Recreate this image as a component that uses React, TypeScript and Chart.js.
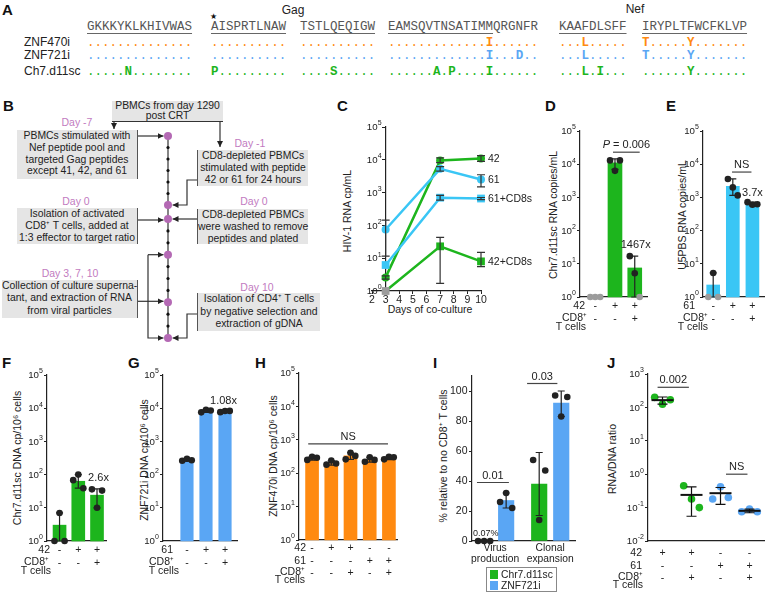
import React, { useEffect, useRef } from 'react';
import { Chart, registerables } from 'chart.js';

Chart.register(...registerables);

const FONT = '"Liberation Sans", Arial, Helvetica, sans-serif';
const MONO = '"Liberation Mono", "Courier New", monospace';
const GREEN = '#1db51d';
const CYAN = '#3ac6f5';
const BLUE = '#5aa6f4';
const ORANGE = '#ff8a10';
const GRAY = '#9c9c9c';
const DARK = '#222222';
const PINK = '#c27bbf';
const DOTPINK = '#b469b4';

Chart.defaults.font.family = FONT;
Chart.defaults.color = DARK;

// ---------------- Panel A data ----------------
const seqRef = ['GKKKYKLKHIVWAS', 'AISPRTLNAW', 'TSTLQEQIGW', 'EAMSQVTNSATIMMQRGNFR', 'KAAFDLSFF', 'IRYPLTFWCFKLVP'];
const seqEpitopeLen = [14, 10, 10, 14, 9, 14];
const seqZNF470i = ['..............', '..........', '..........', '.............I......', '...L.....', 'T.....Y.......'];
const seqZNF721i = ['..............', '..........', '..........', '.............I...D..', '...L.....', 'T.....Y.......'];
const seqCh7 = ['.....N........', 'P.........', '....S.....', '......A.P....I......', '...L.I...', '......Y.......'];
const seqNames = ['ZNF470i', 'ZNF721i', 'Ch7.d11sc'];

// ---------------- Panel C data ----------------
const cDays = [3, 7, 10];
const c42 = [2.6, 9500, 11000];
const c42Err = [[2.3, 2.9], [8200, 11500], [9000, 13500]];
const c61 = [75, 5300, 2500];
const c61Err = [[11.5, 145], [4500, 6200], [1500, 3500]];
const c61CD8 = [6.2, 700, 660];
const c61CD8Err = [null, [590, 820], [610, 710]];
const c42CD8 = [1, 23, 8];
const c42CD8Err = [null, [1.7, 43], [5.5, 15]];
const cYAxisAtDay = 3;

// ---------------- Panel D data ----------------
const dRow42 = ['-', '+', '+'];
const dRowCD8 = ['-', '-', '+'];
const dMeans = [1, 11000, 7.5];
const dPoints = [[1, 1, 1], [13000, 6300, 13000], [17, 5.2, 1]];
const dErr = [null, [7000, 14500], [1, 17]];

// ---------------- Panel E data ----------------
const eRow61 = ['-', '+', '+'];
const eRowCD8 = ['-', '-', '+'];
const eMeans = [2.3, 2150, 580];
const ePoints = [[1, 5.3, 1], [3600, 2000, 1150], [720, 600, 620]];
const eErr = [[1, 5.3], [1150, 3600], [560, 720]];

// ---------------- Panel F data ----------------
const fRow42 = ['-', '+', '+'];
const fRowCD8 = ['-', '-', '+'];
const fMeans = [3, 63, 24];
const fPoints = [[1, 7, 1], [68, 100, 39], [36, 10, 33]];
const fErr = [[1, 7], [39, 100], [10, 37]];

// ---------------- Panel G data ----------------
const gRow61 = ['-', '+', '+'];
const gRowCD8 = ['-', '-', '+'];
const gMeans = [270, 8000, 7800];
const gPoints = [[260, 300, 270], [7500, 9000, 8500], [7600, 8200, 8300]];
const gErr = [[255, 300], [7500, 9000], [7600, 8300]];

// ---------------- Panel H data ----------------
const hRow42 = ['-', '+', '+', '-', '-'];
const hRow61 = ['-', '-', '-', '+', '+'];
const hRowCD8 = ['-', '-', '+', '-', '+'];
const hMeans = [265, 195, 330, 250, 285];
const hPoints = [[250, 310, 290], [180, 240, 195], [260, 410, 330], [220, 300, 250], [260, 310, 300]];
const hErr = [[245, 310], [175, 240], [260, 410], [215, 300], [255, 310]];

// ---------------- Panel I data ----------------
const iRowTop = ['Virus', 'Clonal'];
const iRowBottom = ['production', 'expansion'];
const iChrMeans = [0.07, 38];
const iChrPoints = [[0, 0, 0], [54, 14, 47]];
const iChrErr = [null, [17, 59]];
const iZnfMeans = [27, 92];
const iZnfPoints = [[26, 32, 22], [97, 83, 96]];
const iZnfErr = [[22, 32], [83, 100]];
const iTicks = [0, 20, 40, 60, 80, 100];

// ---------------- Panel J data ----------------
const jRow42 = ['+', '+', '-', '-'];
const jRow61 = ['-', '-', '+', '+'];
const jRowCD8 = ['-', '+', '-', '+'];
const jPoints = [[200, 125, 170], [0.45, 0.18, 0.1], [0.18, 0.42, 0.2], [0.075, 0.09, 0.075]];
const jMeans = [165, 0.24, 0.27, 0.08];
const jErr = [[125, 205], [0.055, 0.42], [0.125, 0.4], [0.07, 0.09]];
const jGroupColors = [GREEN, GREEN, BLUE, BLUE];

// ---------------- helpers ----------------
type Area = { l: number; t: number; r: number; b: number; pl: number; pt: number; pr: number; pb: number };

const common: any = {
  responsive: false,
  maintainAspectRatio: false,
  animation: false,
  events: [],
  devicePixelRatio: 1,
  plugins: { legend: { display: false }, tooltip: { enabled: false } },
};

const errorBarPlugin = {
  id: 'errorBarPlugin',
  afterDatasetDraw(chart: any, args: any) {
    const ds = chart.data.datasets[args.index];
    if (!ds || !ds.errorBars) return;
    const meta = args.meta;
    const ys = chart.scales[meta.yAxisID];
    const ctx = chart.ctx;
    const cw = ds.capHalf ?? 3.5;
    ctx.save();
    ctx.strokeStyle = ds.errColor || DARK;
    ctx.lineWidth = 1.2;
    ds.errorBars.forEach((e: any, i: number) => {
      const el = meta.data[i];
      if (!e || !el) return;
      const x = el.x;
      const y1 = ys.getPixelForValue(e[0]);
      const y2 = ys.getPixelForValue(e[1]);
      ctx.beginPath();
      ctx.moveTo(x, y1);
      ctx.lineTo(x, y2);
      ctx.moveTo(x - cw, y2);
      ctx.lineTo(x + cw, y2);
      ctx.moveTo(x - cw, y1);
      ctx.lineTo(x + cw, y1);
      ctx.stroke();
    });
    ctx.restore();
  },
};
Chart.register(errorBarPlugin);

// log tick labels "10" with a raised small exponent, drawn from the scale's own ticks
function logLabelsPlugin(getX: (chart: any) => number) {
  return {
    id: 'logLabels',
    afterDraw(chart: any) {
      const ys = chart.scales.y;
      const ctx = chart.ctx;
      const x0 = getX(chart);
      ctx.save();
      ctx.fillStyle = DARK;
      ctx.textBaseline = 'middle';
      ys.ticks.forEach((t: any) => {
        const e = String(Math.round(Math.log10(t.value)));
        const y = ys.getPixelForValue(t.value);
        ctx.font = `7px ${FONT}`;
        const ew = ctx.measureText(e).width;
        ctx.textAlign = 'left';
        ctx.fillText(e, x0 - ew, y - 3.5);
        ctx.font = `9.7px ${FONT}`;
        ctx.textAlign = 'right';
        ctx.fillText('10', x0 - ew - 0.2, y + 0.5);
      });
      ctx.restore();
    },
  };
}

type Note =
  | { kind: 'bracket'; x1: number; x2: number; y: number; parts: { t: string; italic?: boolean }[] }
  | { kind: 'text'; x: number; y: number; text: string; size?: number };

function notesPlugin(items: Note[]) {
  return {
    id: 'notes',
    afterDatasetsDraw(chart: any) {
      const xs = chart.scales.x;
      const ys = chart.scales.y;
      const ctx = chart.ctx;
      ctx.save();
      ctx.fillStyle = DARK;
      ctx.strokeStyle = '#444';
      ctx.lineWidth = 1.2;
      ctx.textBaseline = 'middle';
      for (const it of items as any[]) {
        if (it.kind === 'bracket') {
          const x1 = xs.getPixelForValue(it.x1);
          const x2 = xs.getPixelForValue(it.x2);
          const y = ys.getPixelForValue(it.y);
          ctx.beginPath();
          ctx.moveTo(x1, y);
          ctx.lineTo(x2, y);
          ctx.stroke();
          const fonts = it.parts.map((p: any) => `${p.italic ? 'italic ' : ''}11px ${FONT}`);
          let total = 0;
          const widths = it.parts.map((p: any, k: number) => {
            ctx.font = fonts[k];
            const w = ctx.measureText(p.t).width;
            total += w;
            return w;
          });
          let x = (x1 + x2) / 2 - total / 2;
          ctx.textAlign = 'left';
          it.parts.forEach((p: any, k: number) => {
            ctx.font = fonts[k];
            ctx.fillText(p.t, x, y - 7);
            x += widths[k];
          });
        } else {
          ctx.font = `${it.size || 11}px ${FONT}`;
          ctx.textAlign = 'center';
          ctx.fillText(it.text, xs.getPixelForValue(it.x), ys.getPixelForValue(it.y));
        }
      }
      ctx.restore();
    },
  };
}

type RowTitle = { text: string; line: number; dx: number; dy?: number };
function rowTitlesPlugin(items: RowTitle[], pad: number, lh: number, size: number) {
  return {
    id: 'rowTitles',
    afterDraw(chart: any) {
      const xs = chart.scales.x;
      const ctx = chart.ctx;
      ctx.save();
      ctx.font = `${size}px ${FONT}`;
      ctx.fillStyle = DARK;
      ctx.textAlign = 'right';
      ctx.textBaseline = 'middle';
      for (const it of items) {
        ctx.fillText(it.text, chart.chartArea.left + it.dx, xs.top + pad + lh * (it.line + 0.5) + (it.dy || 0));
      }
      ctx.restore();
    },
  };
}

function yLog(area: Area, min: number, max: number) {
  return {
    type: 'logarithmic',
    min,
    max,
    afterBuildTicks: (sc: any) => {
      const t: any[] = [];
      for (let e = Math.round(Math.log10(min)); e <= Math.round(Math.log10(max)); e++) t.push({ value: Math.pow(10, e) });
      sc.ticks = t;
    },
    afterFit: (sc: any) => {
      sc.width = area.pl;
    },
    grid: { drawOnChartArea: false, drawTicks: true, tickLength: 3, color: DARK, lineWidth: 1 },
    border: { display: true, color: DARK, width: 1.2 },
    ticks: { display: false },
  };
}

function yLin(area: Area, min: number, max: number, ticks: number[]) {
  return {
    type: 'linear',
    min,
    max,
    afterBuildTicks: (sc: any) => {
      sc.ticks = ticks.map((v) => ({ value: v }));
    },
    afterFit: (sc: any) => {
      sc.width = area.pl;
    },
    grid: { drawOnChartArea: false, drawTicks: true, tickLength: 3, color: DARK, lineWidth: 1 },
    border: { display: true, color: DARK, width: 1.2 },
    ticks: { callback: (v: number) => String(v), padding: 1.5, color: DARK, font: { size: 10.5 }, autoSkip: false },
  };
}

function xCat(area: Area, min: number, max: number, rows: string[][], pad: number, lh: number, size: number) {
  return {
    type: 'linear',
    min,
    max,
    offset: false,
    afterBuildTicks: (sc: any) => {
      sc.ticks = rows[0].map((_, i) => ({ value: i }));
    },
    afterFit: (sc: any) => {
      sc.height = area.pb;
    },
    grid: { display: false, drawTicks: false, tickLength: 0, offset: false },
    border: { display: true, color: DARK, width: 1.2 },
    ticks: {
      callback: (v: number) => rows.map((r) => r[v]),
      padding: pad,
      maxRotation: 0,
      minRotation: 0,
      autoSkip: false,
      color: DARK,
      font: { size, lineHeight: lh / size },
    },
  };
}

interface BarSeries {
  xs: number[];
  means: number[];
  err: any[];
  points: number[][];
  color: string;
}
interface BarSpec {
  area: Area;
  xmin: number;
  xmax: number;
  ymin: number;
  ymax: number;
  log: boolean;
  yTicks?: number[];
  rows: string[][];
  pad: number;
  lh: number;
  xFont: number;
  titles: RowTitle[];
  series: BarSeries[];
  barW: number;
  spread: number;
  limitColor?: string;
  notes: Note[];
}

function barConfig(s: BarSpec) {
  const datasets: any[] = [];
  s.series.forEach((se) => {
    datasets.push({
      type: 'bar',
      data: se.xs.map((x, i) => ({ x, y: se.means[i] })),
      backgroundColor: se.color,
      barThickness: s.barW,
      grouped: false,
      order: 2,
      errorBars: se.err,
      clip: false,
      borderWidth: 0,
    });
    const pts: any[] = [];
    const cols: string[] = [];
    se.points.forEach((arr, i) =>
      arr.forEach((v, k) => {
        pts.push({ x: se.xs[i] + (k - (arr.length - 1) / 2) * s.spread, y: v });
        cols.push(s.limitColor && v <= s.ymin ? s.limitColor : DARK);
      })
    );
    datasets.push({
      type: 'scatter',
      data: pts,
      pointRadius: 3.3,
      pointBackgroundColor: cols,
      pointBorderWidth: 0,
      order: 1,
      clip: false,
      showLine: false,
    });
  });
  const plugins: any[] = [notesPlugin(s.notes), rowTitlesPlugin(s.titles, s.pad, s.lh, s.xFont)];
  if (s.log) plugins.push(logLabelsPlugin((c: any) => c.chartArea.left - 4));
  return {
    type: 'bar',
    data: { datasets },
    options: {
      ...common,
      layout: { padding: { left: 0, top: s.area.pt, right: s.area.pr, bottom: 0 } },
      scales: {
        x: xCat(s.area, s.xmin, s.xmax, s.rows, s.pad, s.lh, s.xFont),
        y: s.log ? yLog(s.area, s.ymin, s.ymax) : yLin(s.area, s.ymin, s.ymax, s.yTicks || []),
      },
    },
    plugins,
  };
}

function ChartCanvas({ area, make }: { area: Area; make: () => any }) {
  const ref = useRef<HTMLCanvasElement>(null);
  useEffect(() => {
    const chart = new Chart(ref.current as HTMLCanvasElement, make());
    return () => chart.destroy();
  }, []);
  const w = area.r - area.l + area.pl + area.pr;
  const h = area.b - area.t + area.pt + area.pb;
  return (
    <canvas
      ref={ref}
      width={w}
      height={h}
      style={{ position: 'absolute', left: area.l - area.pl, top: area.t - area.pt, width: w, height: h }}
    />
  );
}

// ---------------- chart areas ----------------
const AREA_C: Area = { l: 372, t: 127, r: 481, b: 291, pl: 30, pt: 8, pr: 60, pb: 24 };
const AREA_D: Area = { l: 580, t: 131, r: 647, b: 297, pl: 34, pt: 25, pr: 6, pb: 38 };
const AREA_E: Area = { l: 703, t: 131, r: 766, b: 297, pl: 34, pt: 10, pr: 2, pb: 38 };
const AREA_F: Area = { l: 47, t: 375, r: 106, b: 541, pl: 36, pt: 8, pr: 8, pb: 45 };
const AREA_G: Area = { l: 163, t: 375, r: 237, b: 541, pl: 30, pt: 8, pr: 8, pb: 45 };
const AREA_H: Area = { l: 299, t: 373, r: 397, b: 540, pl: 34, pt: 8, pr: 8, pb: 50 };
const AREA_I: Area = { l: 472, t: 376, r: 575, b: 541, pl: 26, pt: 8, pr: 6, pb: 30 };
const AREA_J: Area = { l: 648, t: 374, r: 767, b: 541, pl: 42, pt: 8, pr: 1, pb: 52 };

const LH = 12.6;

function makeC() {
  const mk = (label: string, ys: number[], err: any[], color: string, style: string, radius: number) => ({
    type: 'line',
    label,
    endLabel: label,
    data: cDays.map((d, i) => ({ x: d, y: ys[i] })),
    borderColor: color,
    borderWidth: 2.5,
    pointStyle: style,
    pointRadius: radius,
    pointBackgroundColor: ys.map((v) => (v <= 1 ? GRAY : color)),
    pointBorderWidth: 0,
    errorBars: err,
    errColor: '#333',
    capHalf: 4,
    clip: false,
    tension: 0,
  });
  const endLabels = {
    id: 'endLabels',
    afterDatasetsDraw(chart: any) {
      const ctx = chart.ctx;
      ctx.save();
      ctx.font = `10.5px ${FONT}`;
      ctx.fillStyle = DARK;
      ctx.textAlign = 'left';
      ctx.textBaseline = 'middle';
      chart.data.datasets.forEach((ds: any, i: number) => {
        const meta = chart.getDatasetMeta(i);
        const el = meta.data[meta.data.length - 1];
        ctx.fillText(ds.endLabel, el.x + 7, el.y + 1);
      });
      ctx.restore();
    },
  };
  const yScale: any = yLog(AREA_C, 1, 1e5);
  yScale.position = { x: cYAxisAtDay };
  delete yScale.afterFit;
  return {
    type: 'line',
    data: {
      datasets: [
        mk('42+CD8s', c42CD8, c42CD8Err, GREEN, 'rect', 5.5),
        mk('61+CD8s', c61CD8, c61CD8Err, CYAN, 'rect', 5.5),
        mk('61', c61, c61Err, CYAN, 'circle', 4),
        mk('42', c42, c42Err, GREEN, 'circle', 4),
      ],
    },
    options: {
      ...common,
      layout: { padding: { left: AREA_C.pl, top: AREA_C.pt, right: AREA_C.pr, bottom: 0 } },
      scales: {
        x: {
          type: 'linear',
          min: 2,
          max: 10,
          afterFit: (sc: any) => {
            sc.height = AREA_C.pb;
          },
          grid: { drawOnChartArea: false, drawTicks: true, tickLength: 3, color: DARK },
          border: { display: true, color: DARK, width: 1.2 },
          ticks: { stepSize: 1, padding: 0, color: DARK, font: { size: 10.5 }, maxRotation: 0, autoSkip: false },
        },
        y: yScale,
      },
    },
    plugins: [endLabels, logLabelsPlugin((c: any) => c.scales.x.getPixelForValue(cYAxisAtDay) - 4)],
  };
}

function makeD() {
  return barConfig({
    area: AREA_D, xmin: -0.77, xmax: 2.62, ymin: 1, ymax: 1e5, log: true,
    rows: [dRow42, dRowCD8], pad: 3, lh: LH, xFont: 10.5,
    titles: [
      { text: '42', line: 0, dx: 5 },
      { text: 'CD8\u207A', line: 1, dx: 7, dy: -1 },
      { text: 'T cells', line: 1, dx: 6, dy: 8 },
    ],
    series: [{ xs: [0, 1, 2], means: dMeans, err: dErr, points: dPoints, color: GREEN }],
    barW: 14, spread: 0.25, limitColor: GRAY,
    notes: [
      { kind: 'bracket', x1: 0.9, x2: 2.25, y: 23000, parts: [{ t: 'P', italic: true }, { t: ' = 0.006' }] },
      { kind: 'text', x: 2.05, y: 37, text: '1467x' },
    ],
  });
}

function makeE() {
  return barConfig({
    area: AREA_E, xmin: -0.52, xmax: 2.59, ymin: 1, ymax: 1e5, log: true,
    rows: [eRow61, eRowCD8], pad: 3, lh: LH, xFont: 10.5,
    titles: [
      { text: '61', line: 0, dx: -8 },
      { text: 'CD8\u207A', line: 1, dx: 5, dy: -1 },
      { text: 'T cells', line: 1, dx: 5, dy: 8 },
    ],
    series: [{ xs: [0, 1, 2], means: eMeans, err: eErr, points: ePoints, color: CYAN }],
    barW: 13, spread: 0.25, limitColor: GRAY,
    notes: [
      { kind: 'bracket', x1: 0.96, x2: 1.95, y: 5800, parts: [{ t: 'NS' }] },
      { kind: 'text', x: 2, y: 1350, text: '3.7x' },
    ],
  });
}

function makeF() {
  return barConfig({
    area: AREA_F, xmin: -0.67, xmax: 2.48, ymin: 1, ymax: 1e5, log: true,
    rows: [fRow42, fRowCD8], pad: 3, lh: LH, xFont: 10.5,
    titles: [
      { text: '42', line: 0, dx: 3 },
      { text: 'CD8\u207A', line: 1, dx: 2, dy: -1 },
      { text: 'T cells', line: 1, dx: 4, dy: 8 },
    ],
    series: [{ xs: [0, 1, 2], means: fMeans, err: fErr, points: fPoints, color: GREEN }],
    barW: 13, spread: 0.27,
    notes: [{ kind: 'text', x: 2.08, y: 78, text: '2.6x' }],
  });
}

function makeG() {
  return barConfig({
    area: AREA_G, xmin: -1.26, xmax: 2.63, ymin: 1, ymax: 1e5, log: true,
    rows: [gRow61, gRowCD8], pad: 3, lh: LH, xFont: 10.5,
    titles: [
      { text: '61', line: 0, dx: 10 },
      { text: 'CD8\u207A', line: 1, dx: 11, dy: -1 },
      { text: 'T cells', line: 1, dx: 16, dy: 8 },
    ],
    series: [{ xs: [0, 1, 2], means: gMeans, err: gErr, points: gPoints, color: BLUE }],
    barW: 12.5, spread: 0.25,
    notes: [{ kind: 'text', x: 1.92, y: 17000, text: '1.08x' }],
  });
}

function makeH() {
  return barConfig({
    area: AREA_H, xmin: -0.68, xmax: 4.42, ymin: 1, ymax: 1e5, log: true,
    rows: [hRow42, hRow61, hRowCD8], pad: 2, lh: LH, xFont: 10.5,
    titles: [
      { text: '42', line: 0, dx: 7 },
      { text: '61', line: 1, dx: 7 },
      { text: 'CD8\u207A', line: 2, dx: 6, dy: -1 },
      { text: 'T cells', line: 2, dx: 6, dy: 7 },
    ],
    series: [{ xs: [0, 1, 2, 3, 4], means: hMeans, err: hErr, points: hPoints, color: ORANGE }],
    barW: 13, spread: 0.25,
    notes: [{ kind: 'bracket', x1: -0.2, x2: 3.95, y: 750, parts: [{ t: 'NS' }] }],
  });
}

function makeI() {
  return barConfig({
    area: AREA_I, xmin: -0.42, xmax: 1.45, ymin: 0, ymax: 110, log: false, yTicks: iTicks,
    rows: [iRowTop, iRowBottom], pad: 2, lh: 11, xFont: 10.3,
    titles: [],
    series: [
      { xs: [-0.2, 0.8], means: iChrMeans, err: iChrErr, points: iChrPoints, color: GREEN },
      { xs: [0.2, 1.2], means: iZnfMeans, err: iZnfErr, points: iZnfPoints, color: BLUE },
    ],
    barW: 15.5, spread: 0.11,
    notes: [
      { kind: 'bracket', x1: -0.33, x2: 0.25, y: 39, parts: [{ t: '0.01' }] },
      { kind: 'bracket', x1: 0.58, x2: 1.13, y: 105, parts: [{ t: '0.03' }] },
      { kind: 'text', x: -0.17, y: 4.7, text: '0.07%', size: 9 },
    ],
  });
}

function makeJ() {
  const datasets = jPoints.map((arr, i) => ({
    type: 'scatter',
    data: arr.map((v, k) => ({ x: i + (k - 1) * 0.27, y: v })),
    pointRadius: 3.8,
    pointBackgroundColor: jGroupColors[i],
    pointBorderWidth: 0,
    clip: false,
  }));
  const meanPlugin = {
    id: 'jMeans',
    afterDatasetsDraw(chart: any) {
      const xs = chart.scales.x;
      const ys = chart.scales.y;
      const ctx = chart.ctx;
      ctx.save();
      ctx.strokeStyle = '#111';
      jMeans.forEach((m, i) => {
        const x = xs.getPixelForValue(i);
        const ym = ys.getPixelForValue(m);
        const y1 = ys.getPixelForValue(jErr[i][0]);
        const y2 = ys.getPixelForValue(jErr[i][1]);
        ctx.lineWidth = 1.2;
        ctx.beginPath();
        ctx.moveTo(x, y1);
        ctx.lineTo(x, y2);
        ctx.moveTo(x - 5, y1);
        ctx.lineTo(x + 5, y1);
        ctx.moveTo(x - 5, y2);
        ctx.lineTo(x + 5, y2);
        ctx.stroke();
        ctx.lineWidth = 2;
        ctx.beginPath();
        ctx.moveTo(x - 11, ym);
        ctx.lineTo(x + 11, ym);
        ctx.stroke();
      });
      ctx.restore();
    },
  };
  return {
    type: 'scatter',
    data: { datasets },
    options: {
      ...common,
      layout: { padding: { left: 0, top: AREA_J.pt, right: AREA_J.pr, bottom: 0 } },
      scales: {
        x: xCat(AREA_J, -0.5, 3.5, [jRow42, jRow61, jRowCD8], 6, LH, 10.5),
        y: yLog(AREA_J, 0.01, 1000),
      },
    },
    plugins: [
      meanPlugin,
      notesPlugin([
        { kind: 'bracket', x1: -0.17, x2: 0.91, y: 400, parts: [{ t: '0.002' }] },
        { kind: 'bracket', x1: 2.19, x2: 2.93, y: 1, parts: [{ t: 'NS' }] },
      ]),
      rowTitlesPlugin(
        [
          { text: '42', line: 0, dx: -6 },
          { text: '61', line: 1, dx: -6 },
          { text: 'CD8\u207A', line: 2, dx: -5, dy: -1 },
          { text: 'T cells', line: 2, dx: -5, dy: 7 },
        ],
        6,
        LH,
        10.5
      ),
      logLabelsPlugin((c: any) => c.chartArea.left - 4),
    ],
  };
}

// ---------------- static parts ----------------
const abs = (style: any): any => ({ position: 'absolute', ...style });

function Letter({ ch, x, y }: { ch: string; x: number; y: number }) {
  return <div style={abs({ left: x, top: y - 2, font: `bold 15px ${FONT}`, lineHeight: '15px', color: '#111' })}>{ch}</div>;
}

function Centered({ text, x, y, size = 10.5, color = DARK, rotate = false, extra = {} }: any) {
  return (
    <div
      style={abs({
        left: x,
        top: y,
        transform: `translate(-50%, -50%)${rotate ? ' rotate(-90deg)' : ''}`,
        fontSize: size,
        lineHeight: `${size + 2}px`,
        whiteSpace: 'nowrap',
        color,
        fontFamily: FONT,
        ...extra,
      })}
    >
      {text}
    </div>
  );
}

const GROUP_X = [87, 211, 300, 388, 559, 642];

function SeqRow({ strs, color, top }: { strs: string[]; color: string; top: number }) {
  return (
    <>
      {strs.map((s, g) => (
        <div key={g} style={abs({ left: GROUP_X[g], top, font: `12.5px ${MONO}`, lineHeight: '14px', whiteSpace: 'pre', color })}>
          {s.split('').map((c, k) => (c === '.' ? <span key={k}>.</span> : <b key={k}>{c}</b>))}
        </div>
      ))}
    </>
  );
}

function PanelA() {
  return (
    <>
      <Centered text="Gag" x={293} y={10} size={12} />
      <Centered text="Nef" x={635} y={9} size={12} />
      <Centered text={'\u2605'} x={213.5} y={17} size={8} color="#111" extra={{ fontFamily: '"DejaVu Sans", sans-serif' }} />
      {seqRef.map((s, g) => (
        <div key={g} style={abs({ left: GROUP_X[g], top: 20, font: `12.5px ${MONO}`, lineHeight: '14px', whiteSpace: 'pre', color: '#555' })}>
          <span style={{ textDecoration: 'underline', textUnderlineOffset: '3px', textDecorationColor: '#666' }}>{s.slice(0, seqEpitopeLen[g])}</span>
          {s.slice(seqEpitopeLen[g])}
        </div>
      ))}
      {seqNames.map((n, i) => (
        <div key={n} style={abs({ left: 24, top: [35, 48, 64][i], fontSize: 12, lineHeight: '14px', color: DARK, fontFamily: FONT })}>
          {n}
        </div>
      ))}
      <SeqRow strs={seqZNF470i} color={ORANGE} top={36} />
      <SeqRow strs={seqZNF721i} color={BLUE} top={49} />
      <SeqRow strs={seqCh7} color={GREEN} top={65} />
    </>
  );
}

function Box({ x, y, w, h, lh, text, side }: any) {
  const border = side === 'right' ? { borderRight: '1px solid #555' } : side === 'left' ? { borderLeft: '1px solid #555' } : { borderBottom: '1px solid #333' };
  return (
    <div
      style={abs({
        left: x,
        top: y,
        width: w,
        height: h,
        boxSizing: 'border-box',
        background: '#e5e5e5',
        textAlign: 'center',
        fontFamily: FONT,
        fontSize: 10.4,
        lineHeight: `${lh}px`,
        whiteSpace: 'pre',
        color: DARK,
        ...border,
      })}
    >
      {text}
    </div>
  );
}

function PanelB() {
  const dayY = (d: number) => (d < 0 ? 205 + (d + 1) * 11.5 : 219 + d * 11.9);
  const tlX = 168;
  const pinkDays = [-7, -1, 0, 3, 7, 10];
  const blackDays = [-6, -5, -4, -3, -2, 1, 2, 4, 5, 6, 8, 9];
  const st = { stroke: '#333', strokeWidth: 1.2, fill: 'none' };
  return (
    <>
      <Box x={112} y={101} w={111} h={21} lh={10} text={'PBMCs from day 1290\npost CRT'} side="bottom" />
      <Box x={17} y={130} w={121} h={49} lh={11.8} text={'PBMCs stimulated with\nNef peptide pool and\ntargeted Gag peptides\nexcept 41, 42, and 61'} side="right" />
      <Box x={17} y={208} w={121} h={36} lh={12} text={'Isolation of activated\nCD8\u207A T cells, added at\n1:3 effector to target ratio'} side="right" />
      <Box x={2} y={280} w={136} h={38} lh={12.3} text={'Collection of culture superna-\ntant, and extraction of RNA\nfrom viral particles'} side="right" />
      <Box x={197} y={150} w={111} h={36} lh={12} text={'CD8-depleted PBMCs\nstimulated with peptide\n42 or 61 for 24 hours'} side="left" />
      <Box x={197} y={209} w={111} h={35} lh={12} text={'CD8-depleted PBMCs\nwere washed to remove\npeptides and plated'} side="left" />
      <Box x={197} y={293} w={123} h={38} lh={12.6} text={'Isolation of CD4\u207A T cells\nby negative selection and\nextraction of gDNA'} side="left" />
      <Centered text="Day -7" x={77} y={122} color={PINK} />
      <Centered text="Day 0" x={76} y={201} color={PINK} />
      <Centered text="Day 3, 7, 10" x={70} y={273} color={PINK} />
      <Centered text="Day -1" x={250} y={143} color={PINK} />
      <Centered text="Day 0" x={254} y={201} color={PINK} />
      <Centered text="Day 10" x={257} y={287} color={PINK} />
      <svg width={768} height={599} style={abs({ left: 0, top: 0 })}>
        <defs>
          <marker id="ah" viewBox="0 0 10 10" refX="10" refY="5" markerWidth="6" markerHeight="6" markerUnits="userSpaceOnUse" orient="auto">
            <path d="M0,0 L10,5 L0,10 z" fill="#222" />
          </marker>
        </defs>
        <line x1={tlX} y1={dayY(-7)} x2={tlX} y2={dayY(10)} stroke="#333" strokeWidth={1.2} />
        <path d="M114,121.5 V129" {...st} markerEnd="url(#ah)" />
        <path d="M220,121.5 V147" {...st} markerEnd="url(#ah)" />
        <path d={`M138,${dayY(-7)} H163.5`} {...st} markerEnd="url(#ah)" />
        <path d={`M197,180 H187 V${dayY(-1)} H172.5`} {...st} markerEnd="url(#ah)" />
        <path d={`M138,${dayY(0) + 1} H163.5`} {...st} markerEnd="url(#ah)" />
        <path d={`M197,${dayY(0)} H172.5`} {...st} markerEnd="url(#ah)" />
        <path d={`M138,${dayY(7) - 1} H163.5`} {...st} markerEnd="url(#ah)" />
        <path d={`M148,${dayY(3)} H163.5`} {...st} markerEnd="url(#ah)" />
        <path d={`M148,${dayY(3)} V${dayY(10)} H163.5`} {...st} markerEnd="url(#ah)" />
        <path d={`M197,314 H187 V${dayY(10)} H172.5`} {...st} markerEnd="url(#ah)" />
        {blackDays.map((d) => (
          <circle key={d} cx={tlX} cy={dayY(d)} r={1.6} fill="#111" />
        ))}
        {pinkDays.map((d) => (
          <circle key={d} cx={tlX} cy={dayY(d)} r={4} fill={DOTPINK} />
        ))}
      </svg>
    </>
  );
}

function LegendI() {
  const row = (color: string, label: string) => (
    <div style={{ display: 'flex', alignItems: 'center', height: 11.5 }}>
      <div style={{ width: 8, height: 9, background: color, marginLeft: 3, marginRight: 3 }} />
      <span style={{ fontSize: 10.3, lineHeight: '11.5px' }}>{label}</span>
    </div>
  );
  return (
    <div style={abs({ left: 486, top: 567, width: 71, height: 25, boxSizing: 'border-box', border: '1px solid #888', paddingTop: 0.5, fontFamily: FONT, color: DARK })}>
      {row(GREEN, 'Chr7.d11sc')}
      {row(BLUE, 'ZNF721i')}
    </div>
  );
}

export default function App() {
  return (
    <div style={{ position: 'fixed', left: 0, top: 0, width: 768, height: 599, background: '#fff', overflow: 'hidden', fontFamily: FONT, color: DARK }}>
      <PanelA />
      <PanelB />
      <Letter ch="A" x={2} y={4} />
      <Letter ch="B" x={3} y={100} />
      <Letter ch="C" x={337} y={100} />
      <Letter ch="D" x={545} y={100} />
      <Letter ch="E" x={666} y={100} />
      <Letter ch="F" x={2} y={357} />
      <Letter ch="G" x={128} y={357} />
      <Letter ch="H" x={255} y={357} />
      <Letter ch="I" x={433} y={357} />
      <Letter ch="J" x={607} y={357} />

      <Centered text="HIV-1 RNA cp/mL" x={347} y={211} rotate />
      <Centered text="Days of co-culture" x={430} y={309} />
      <Centered text="Chr7.d11sc RNA copies/mL" x={553} y={215} rotate />
      <Centered text="U5PBS RNA copies/mL" x={682} y={215} rotate />
      <Centered text={'Chr7.d11sc DNA cp/10\u2076 cells'} x={17} y={458} rotate />
      <Centered text={'ZNF721i DNA cp/10\u2076 cells'} x={144} y={460} rotate />
      <Centered text={'ZNF470i DNA cp/10\u2076 cells'} x={273} y={456} rotate />
      <Centered text={'% relative to no CD8\u207A T cells'} x={443} y={456} rotate />
      <Centered text="RNA/DNA ratio" x={612} y={459} rotate />

      <ChartCanvas area={AREA_C} make={makeC} />
      <ChartCanvas area={AREA_D} make={makeD} />
      <ChartCanvas area={AREA_E} make={makeE} />
      <ChartCanvas area={AREA_F} make={makeF} />
      <ChartCanvas area={AREA_G} make={makeG} />
      <ChartCanvas area={AREA_H} make={makeH} />
      <ChartCanvas area={AREA_I} make={makeI} />
      <ChartCanvas area={AREA_J} make={makeJ} />
      <LegendI />
    </div>
  );
}
